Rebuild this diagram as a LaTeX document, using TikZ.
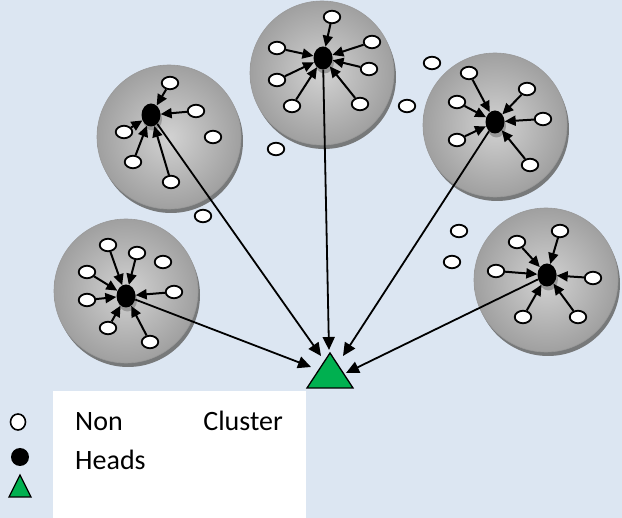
\documentclass[tikz,border=0pt]{standalone}
\usepackage{fontspec}
\setmainfont{Carlito}
\usetikzlibrary{shapes.geometric,arrows.meta,shadows}
\definecolor{bg}{HTML}{DCE6F2}
\definecolor{sinkgreen}{HTML}{00B050}
\definecolor{cin}{HTML}{D2D2D2}
\definecolor{cout}{HTML}{A0A0A0}
\begin{document}
\begin{tikzpicture}[x=1pt,y=-1pt,
  cluster/.style={circle, minimum size=144pt, inner sep=0pt, inner color=cin, outer color=cout,
    draw=black!40, line width=0.6pt,
    drop shadow={shadow xshift=2pt, shadow yshift=-4pt, fill=black!60, opacity=0.85}},
  member/.style={ellipse, draw=black, line width=1.8pt, fill=white, minimum width=16.5pt, minimum height=12.5pt, inner sep=0pt},
  legmember/.style={member, line width=1.6pt, minimum width=15pt, minimum height=16pt},
  head/.style={ellipse, fill=black, minimum width=19pt, minimum height=23pt, inner sep=0pt,
    drop shadow={shadow xshift=1.5pt, shadow yshift=-4pt, fill=black!40, opacity=1}},
  leghead/.style={ellipse, fill=black, minimum width=18pt, minimum height=18pt, inner sep=0pt},
  memberlink/.style={line width=2pt, -{Triangle[length=11pt,width=10pt]}},
  uplink/.style={line width=1.8pt, -{Triangle[length=13pt,width=12pt]}},
  sinkshape/.style={fill=sinkgreen, draw=black, line width=1.3pt, line join=miter},
  legtext/.style={font=\fontsize{28}{34}\selectfont, inner sep=0pt}
]
\useasboundingbox (0,0) rectangle (622,518);
\fill[bg] (0,0) rectangle (622,518);
\fill[white] (53,391) rectangle (306,518);

% clusters
\node[cluster] (c1) at (169,137) {};
\node[cluster] (c2) at (322,73) {};
\node[cluster] (c3) at (495,125) {};
\node[cluster] (c4) at (126,291) {};
\node[cluster] (c5) at (546,280) {};

% heads
\node[head] (h1) at (151,115) {};
\node[head] (h2) at (323,58) {};
\node[head] (h3) at (495,122) {};
\node[head] (h4) at (126,296) {};
\node[head] (h5) at (547,275) {};

% members of cluster 1
\node[member] (a1) at (170,83) {};
\node[member] (a2) at (196,111) {};
\node[member] (a3) at (213,137) {};
\node[member] (a4) at (124,132) {};
\node[member] (a5) at (133,162) {};
\node[member] (a6) at (171,182) {};
% members of cluster 2
\node[member] (b1) at (332,17) {};
\node[member] (b2) at (372,42) {};
\node[member] (b3) at (277,48) {};
\node[member] (b4) at (369,69) {};
\node[member] (b5) at (277,80) {};
\node[member] (b6) at (292,106) {};
\node[member] (b7) at (360,104) {};
% members of cluster 3
\node[member] (d1) at (469,73) {};
\node[member] (d2) at (527,89) {};
\node[member] (d3) at (457,102) {};
\node[member] (d4) at (543,119) {};
\node[member] (d5) at (457,140) {};
\node[member] (d6) at (530,165) {};
% members of cluster 4
\node[member] (e1) at (108,245) {};
\node[member] (e2) at (137,253) {};
\node[member] (e3) at (163,262) {};
\node[member] (e4) at (87,272) {};
\node[member] (e5) at (174,292) {};
\node[member] (e6) at (87,300) {};
\node[member] (e7) at (108,328) {};
\node[member] (e8) at (150,342) {};
% members of cluster 5
\node[member] (f1) at (517,242) {};
\node[member] (f2) at (560,231) {};
\node[member] (f3) at (496,271) {};
\node[member] (f4) at (593,278) {};
\node[member] (f5) at (523,317) {};
\node[member] (f6) at (578,317) {};
% free nodes
\node[member] (g1) at (432,63) {};
\node[member] (g2) at (407,106) {};
\node[member] (g3) at (276,149) {};
\node[member] (g4) at (203,216) {};
\node[member] (g5) at (459,231) {};
\node[member] (g6) at (452,262) {};

% links inside clusters
\foreach \m in {a1,a2,a4,a5,a6} \draw[memberlink] (\m) -- (h1);
\foreach \m in {b1,b2,b3,b4,b5,b6,b7} \draw[memberlink] (\m) -- (h2);
\foreach \m in {d1,d2,d3,d4,d5,d6} \draw[memberlink] (\m) -- (h3);
\foreach \m in {e1,e2,e4,e5,e6,e7,e8} \draw[memberlink] (\m) -- (h4);
\foreach \m in {f1,f2,f3,f4,f5,f6} \draw[memberlink] (\m) -- (h5);

% sink
\path[sinkshape] (330,353) -- (307,388) -- (353,388) -- cycle;
\coordinate (s1) at (321,356);
\coordinate (s2) at (329,350);
\coordinate (s3) at (343,356);
\coordinate (s4) at (311,367);
\coordinate (s5) at (346,373);
\draw[uplink] (h1) -- (s1);
\draw[uplink] (h2) -- (s2);
\draw[uplink] (h3) -- (s3);
\draw[uplink] (h4) -- (s4);
\draw[uplink] (h5) -- (s5);

% legend
\node[legmember] (lm) at (18,422) {};
\node[leghead] (lh) at (20,457) {};
\path[sinkshape] (20,475) -- (9,497) -- (31,497) -- cycle;
\node[legtext, anchor=base west] (t1) at (75,431) {Non};
\node[legtext, anchor=base east] (t2) at (283,431) {Cluster};
\node[legtext, anchor=base west] (t3) at (75,470) {Heads};
\end{tikzpicture}
\end{document}
